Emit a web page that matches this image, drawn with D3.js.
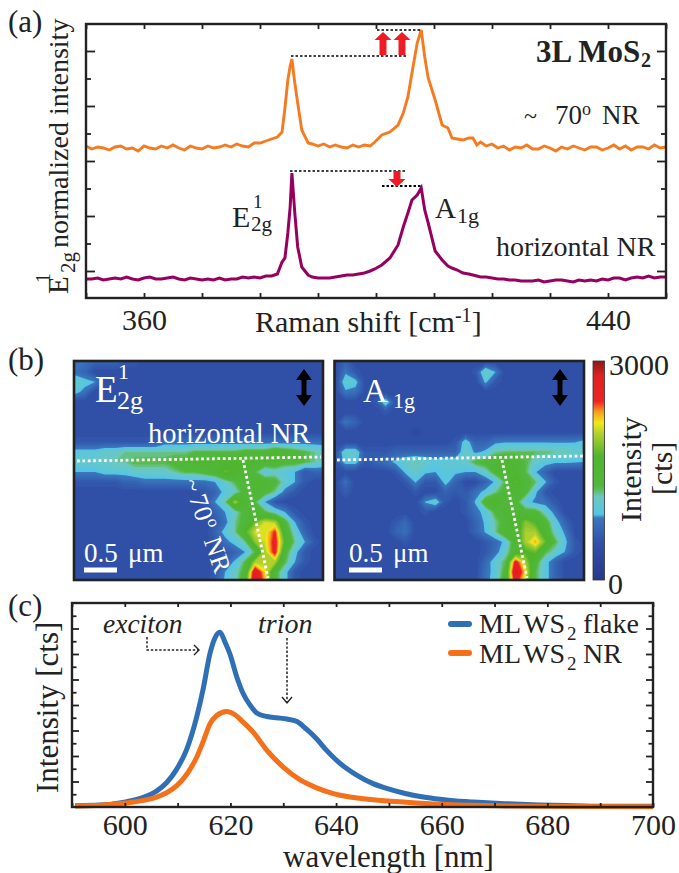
<!DOCTYPE html>
<html>
<head>
<meta charset="utf-8">
<script src="https://d3js.org/d3.v7.min.js"></script>
<style>
body { margin: 0; background: white; }
svg { display: block; }
text { font-family: "Liberation Serif"; fill: #222; }
</style>
</head>
<body>
<div id="canvas"></div>
<script>
// panel (a), intensity in arbitrary units
var ramanShift = [350,351,352,353,354,355,356,357,358,359,360,361,362,363,364,365,366,367,368,369,370,371,372,373,374,375,376,377,378,379,380,381,382,383,383.8,384.3,384.8,385.2,385.5,386,386.5,387.2,388.3,389,390,391,392,393,394,395,396,397,398,399,399.8,401,402.4,403.8,404.7,405.5,406.2,407.1,407.8,408.4,409,410.2,411.4,412.4,413.1,414,415,416,416.7,417.4,418,419,420,421,422,423,424,425,426,427,428,429,430,431,432,433,434,435,436,437,438,439,440,441,442,443,444,445,446,447,448,449,450];
var orangeRaman = [152,149,151,150,148,151,152,149,150,147,152,150,149,152,150,153,150,148,152,150,149,152,150,151,153,151,154,152,151,155,155,157,159,161,166,190,218,232,239,215,195,168,155,154,152,154,151,153,151,150,153,151,153,152,156,163,166,173,185,201,225,255,268,241,220,198,173,170,160,159,158,160,160,153,156,152,154,150,152,148,151,150,153,149,149,152,150,147,151,149,152,150,148,151,151,148,150,153,149,152,148,151,151,149,153,150,151];
var purpleRaman = [19,19,20,18,19,20,19,21,19,18,20,21,19,19,20,21,19,18,20,19,18,19,18,20,18,19,19,21,20,21,20,22,22,24,36,40,65,91,125,85,51,31,23,21,20,20,20,21,22,23,23,24,25,27,29,33,40,53,71,85,98,103,110,88,75,47,38,32,30,28,25,24,23,22,21,21,20,19,19,18,18,17,17,17,18,16,17,18,18,17,16,18,17,18,17,19,18,20,20,18,20,21,20,22,20,21,21];
var ramanTicks = [350,360,370,380,390,400,410,420,430,440,450];
var ramanLabels = [360,440];
var ramanMajor = [27,82,137,192,247];
var ramanMinor = [54.5,109.5,164.5,219.5];

// panel (b), intensity maps in hundreds of counts
var mapE = [
[8,8,7,7,7,6,6,5,5,5,5,5,5,5,5,5,5,5,5,5,5,5,5,5,5,5],
[8,7,5,5,5,5,5,5,5,5,5,5,5,5,5,5,5,5,5,5,5,5,5,5,5,5],
[11,10,9,5,5,5,5,5,5,5,5,5,5,5,5,5,5,5,5,5,5,5,5,5,5,5],
[10,8,5,5,5,5,5,5,5,5,5,5,5,5,5,5,5,5,5,5,5,5,5,5,5,5],
[5,5,5,5,5,5,5,5,5,5,5,5,5,5,5,5,5,5,5,5,5,5,5,5,5,5],
[5,5,5,5,5,5,5,5,5,5,5,5,5,5,5,5,5,5,5,5,5,5,5,5,5,5],
[5,5,5,5,5,5,5,5,5,5,5,5,5,5,5,5,5,5,5,5,5,5,5,5,5,5],
[5,5,5,5,5,5,5,5,5,5,5,5,5,5,5,5,5,5,5,5,5,5,5,5,5,5],
[6,6,6,6,6,6,6,6,6,8,8,8,8,8,8,8,8,8,8,8,8,8,8,8,8,8],
[10,10,10,11,11,12,12,12,12,12,12,12,13,13,13,13,13,14,14,14,16,15,14,13,12,11],
[11,11,11,11,12,12,13,13,13,13,14,14,15,15,15,16,16,16,15,15,15,14,14,13,12,11],
[9,9,9,10,10,10,11,11,11,11,12,13,13,14,15,18,17,15,13,10,11,10,9,6,7,7],
[6,6,6,6,6,7,7,8,8,8,8,8,8,8,9,11,13,14,15,15,14,11,9,6,5,5],
[5,5,5,5,5,5,5,5,5,5,5,5,5,6,7,10,11,14,15,14,12,8,6,5,5,5],
[5,5,5,5,5,5,5,5,5,5,5,5,5,6,9,12,20,15,13,9,6,5,5,5,5,5],
[5,5,5,5,5,5,5,5,5,5,5,5,5,5,7,9,11,14,15,13,11,9,6,5,5,5],
[5,5,5,5,5,5,5,5,5,5,5,5,5,5,6,8,12,14,18,21,20,14,9,6,5,5],
[5,5,5,5,5,5,5,5,5,5,5,5,5,5,7,10,12,17,21,21,25,15,11,7,5,5],
[5,5,5,5,5,5,5,5,5,5,5,5,5,5,6,8,10,12,19,21,26,17,12,9,6,5],
[5,5,5,5,5,5,5,5,5,5,5,5,5,5,5,6,7,9,13,20,26,14,10,6,5,5],
[5,5,5,5,5,5,5,5,5,5,5,5,5,5,6,7,9.5,13,20,20,20,13,9,6,5,5],
[5,5,5,5,5,5,5,5,5,5,5,5,5,5,6,9,11,14,28,22,14,10,6,5,5,5],
[5,5,5,5,5,5,5,5,5,5,5,5,5,5,6,9.5,11,16,29,23,14,10,6,5,5,5]
];
var mapA = [
[5,7,5,5,5,5,5,5,5,5,5,5,5,5,5,5,5,5,5,5,5,5,5,5,5,5],
[5,8.5,6,5,5,5,5,5,5,5,5,5,5,5,6,12,9,5,5,5,5,5,5,5,5,5],
[5,11,10,5,5,5,5,5,5,5,5,5,5,5,5,9.5,6,5,5,5,5,5,5,5,5,5],
[5,8.5,8,5,5,5,5,5,5,5,5,5,5,5,5,5,5,5,5,5,5,5,5,5,5,5],
[5,5,5,5,6,11,6,5,5,5,5,5,5,5,5,5,5,5,5,5,5,5,5,5,5,5],
[5,5,5,5,5,6,5,5,5,5,5,5,5,5,5,5,5,5,5,5,5,5,5,5,5,5],
[5,8.5,7,5,5,5,5,5,5,5,5,5,5,5,5,5,5,5,5,5,5,5,5,5,5,5],
[5,5,5,5,5,5,5,5,4,5,5,5,5,5,5,5,5,5,5,5,5,5,5,5,5,5],
[5,5,5,5,5,5,5,5,5,5,5,5,6,10.5,7,7,8.5,8.8,8.8,8.8,8.8,8.8,8.8,8.8,8.9,10],
[6,11,11,6,6,6,7,7,7,7,7,7,7,11,8.5,9.5,12,12.5,12.5,12.5,12.5,12.5,12,12,11,11],
[6,10,10,6,7,8,9.5,11,12,11,10,10.5,10.5,11,13.5,14,15,15,15,13,11,10,9.5,9.5,9.2,8.9],
[5,5,5,5,5,5,6,9.5,11,9.5,9,10,9.5,9,9,11,14,15,15,13,9.2,7,5,5,5,5],
[5,8,5,5,5,5,5,6,9.2,6,6,10,7,5,5,7,9.5,13,18,14,12.5,9.2,6,5,5,5],
[5,6.5,5,5,5,5,5,5,6,5,5,7,6,6,8,9.8,12,14,15,14,9.5,6,5,5,5,5],
[5,5,5,5,5,5,5,5,5,9.2,11,6,5,6,9.3,15,17,14,14,10,8.5,8,6,5,5,5],
[5,5,5,5,5,5,5,5,5,6,5,5,5,6,8,10,13.5,15,15,14,14,11,8,5,5,5],
[5,5,5,5,5,5,6,7.5,5,5,5,5,5,5,7,9.5,12,14,15,19,17,14,10,7,5,5],
[5,5,5,5,5,5,7,8,5,5,5,5,5,5,7,9.2,12,16,15,20,20,15,11,8.5,5,5],
[5,5,5,5,5,5,5,6,5,5,5,5,5,5,5,6,7.5,9.8,15,20,23,18,13,9.5,6,5],
[5,5,5,5,5,5,5,5,5,5,5,5,5,5,5,6,8,11,15,17,18,13,11,8.8,6,5],
[5,5,5,5,5,5,5,5,5,5,5,5,5,5,5,7.5,10.5,13,26,20,14,10,7,5,5,5],
[5,5,5,5,5,5,5,5,5,5,5,5,5,5,5,8,10,14,29,22,13,10,7,5,5,5],
[5,5,5,5,5,5,5,5,5,5,5,5,5,5,5,8,10.5,15,26,20,13,10,7,5,5,5]
];
var colourStops = [0,5,8.5,9,11.4,12.5,13,17,20,21.5,23,24.5,28,30];
var colourValues = ["#27398a","#3050a8","#3a78bd","#55c4e6","#6cc8c0","#5cbb50","#50b83c","#50b52d","#b0d030","#f0e81c","#f7a020","#ee2324","#e02020","#8a1a1a"];

// panel (c)
var flakeNm = [590.6,595.3,600.2,603.5,606,607.9,609.8,611.7,613.6,614.9,616.1,617,618,619,619.9,621.2,622.4,623.7,624.9,626.9,628.8,630.7,632.6,634.4,636.3,638.2,640.8,643.9,647,650.2,653.3,656.5,659.7,662.8,666,672,678.6,685,691,700];
var flakeValues = [0.1,0.15,0.4,0.75,1.25,1.9,2.95,4.5,7.05,9.4,12,13.2,13.7,12.9,12,10.2,8.9,8,7.4,7.1,7,6.9,6.7,6.1,5.35,4.44,3.4,2.5,1.83,1.38,1.04,0.78,0.6,0.47,0.39,0.26,0.16,0.1,0.05,0.05];
var ribbonNm = [590.6,595.3,600.2,603.5,606,607.9,609.8,611.7,613.6,614.9,616.1,617.4,619.3,620.6,622.4,624.3,626.9,630,633.2,636.3,639.5,640.8,647,653.3,659.7,666,672,685,700];
var ribbonValues = [0.08,0.13,0.31,0.52,0.78,1.12,1.65,2.55,3.9,5.2,6.5,7.18,7.5,7.3,6.66,5.87,4.44,3.13,2.12,1.5,1.05,0.92,0.57,0.37,0.21,0.13,0.08,0.03,0.02];
var nmTicks = [590,600,610,620,630,640,650,660,670,680,690,700];
var nmLabels = [600,620,640,660,680,700];
var plMajor = [2,4,6,8,10,12,14];
var plMinor = [1,3,5,7,9,11,13,15];

var svg = d3.select("#canvas").append("svg").attr("width", 679).attr("height", 873);

function label(parent, x, y, str, size, opts) {
	opts = opts || {};
	var t = parent.append("text").attr("x", x).attr("y", y).attr("font-size", size).text(str);
	if (opts.anchor) t.attr("text-anchor", opts.anchor);
	if (opts.fill) t.style("fill", opts.fill);
	if (opts.bold) t.attr("font-weight", "bold");
	if (opts.italic) t.attr("font-style", "italic");
	if (opts.rotate !== undefined) t.attr("transform", "rotate(" + opts.rotate + " " + x + " " + y + ")");
	return t;
}

// ticks pointing inward on all four sides
function frame(g, x, y, xTicks, xLabels, major, minor, lenMajor, lenMinor, lenX, fontSize, pad) {
	var h = y.range()[0], w = x.range()[1] - x.range()[0], left = x.range()[0], top = y.range()[1];
	g.append("g").attr("transform", "translate(0," + h + ")")
		.call(d3.axisBottom(x).tickValues(xTicks).tickSizeInner(-lenX).tickSizeOuter(0).tickPadding(pad)
			.tickFormat(function(d) { return xLabels.indexOf(d) >= 0 ? d : ""; }));
	g.append("g").attr("transform", "translate(0," + top + ")")
		.call(d3.axisTop(x).tickValues(xTicks).tickSizeInner(-lenX).tickSizeOuter(0).tickFormat(""));
	[[major, lenMajor], [minor, lenMinor]].forEach(function(m) {
		g.append("g").attr("transform", "translate(" + left + ",0)")
			.call(d3.axisLeft(y).tickValues(m[0]).tickSizeInner(-m[1]).tickSizeOuter(0).tickFormat(""));
		g.append("g").attr("transform", "translate(" + (left + w) + ",0)")
			.call(d3.axisRight(y).tickValues(m[0]).tickSizeInner(-m[1]).tickSizeOuter(0).tickFormat(""));
	});
	g.selectAll("line").attr("stroke", "#222").attr("stroke-width", 1.8);
	g.selectAll("path.domain").attr("stroke", "none");
	g.selectAll(".tick text").attr("font-family", "Liberation Serif").attr("font-size", fontSize).style("fill", "#222");
	g.append("rect").attr("x", left).attr("y", top).attr("width", w).attr("height", h - top)
		.attr("fill", "none").attr("stroke", "#222").attr("stroke-width", 2.4);
}

/* ---------- (a) ---------- */
var a = svg.append("g");
var xA = d3.scaleLinear().domain([350, 450]).range([86, 666]);
var yA = d3.scaleLinear().domain([0, 274]).range([298, 24]);
var lineA = function(vals) {
	return d3.line().x(function(d, i) { return xA(ramanShift[i]); }).y(function(d) { return yA(d); })(vals);
};
a.append("path").attr("d", lineA(orangeRaman)).attr("fill", "none").attr("stroke", "#f57a20").attr("stroke-width", 2.9);
a.append("path").attr("d", lineA(purpleRaman)).attr("fill", "none").attr("stroke", "#96005f").attr("stroke-width", 3);
frame(a, xA, yA, ramanTicks, ramanLabels, ramanMajor, ramanMinor, 9, 5, 5, 30, 11);

label(a, 8, 32, "(a)", 31);
// rotated axis title with stacked sub/superscript
var yt = a.append("g").attr("transform", "translate(68,294) rotate(-90)");
label(yt, 0, 0, "E", 29);
label(yt, 11, -18, "1", 20);
label(yt, 21, 7, "2g", 21);
label(yt, 46, 0, "normalized intensity", 28);
var xt = a.append("text").attr("x", 255).attr("y", 332).attr("font-size", 30).text("Raman shift [cm");
xt.append("tspan").attr("dy", -10).attr("font-size", 20).text("-1");
xt.append("tspan").attr("dy", 10).text("]");

label(a, 536, 62, "3L MoS", 31, {bold: true});
label(a, 641, 67, "2", 20, {bold: true});
label(a, 524, 124, "~", 24);
label(a, 555, 124, "70", 27);
label(a, 582, 115, "o", 18);
label(a, 602, 124, "NR", 27);
label(a, 496, 256, "horizontal NR", 28);
label(a, 232, 227, "E", 30);
label(a, 253, 208, "1", 19);
label(a, 251, 231, "2g", 21);
label(a, 435, 218, "A", 29);
label(a, 457, 223, "1g", 22);

// peak level guides
function guide(x1, x2, y1, w) {
	a.append("line").attr("x1", x1).attr("x2", x2).attr("y1", y1).attr("y2", y1)
		.attr("stroke", "#000").attr("stroke-width", w).attr("stroke-dasharray", "2.5,2");
}
guide(291, 408, 56, 1.4);
guide(377, 421, 30, 1.4);
guide(290, 407, 171, 1.4);
guide(382, 421, 186, 2);
var redArrow = function(x, yFrom, yTo) {
	var dir = yTo > yFrom ? -1 : 1, head = 8;
	a.append("path").attr("fill", "#ee1c25").attr("d",
		"M" + (x - 3.5) + "," + yFrom + "L" + (x - 3.5) + "," + (yTo + dir * head) + "L" + (x - 8.5) + "," + (yTo + dir * head) +
		"L" + x + "," + yTo + "L" + (x + 8.5) + "," + (yTo + dir * head) + "L" + (x + 3.5) + "," + (yTo + dir * head) + "L" + (x + 3.5) + "," + yFrom + "Z");
};
redArrow(383, 55, 32);
redArrow(402, 55, 32);
redArrow(397, 171, 187);

/* ---------- (b) ---------- */
var b = svg.append("g");
label(b, 8, 370, "(b)", 31);
var colour = d3.scaleLinear().domain(colourStops).range(colourValues);
var levels = d3.range(0, 30.5, 0.5);

function drawMap(values, left, right, id) {
	var top = 361, bottom = 580;
	var flat = d3.merge(values);
	var cols = values[0].length, rows = values.length;
	var xM = d3.scaleLinear().domain([0.5, cols - 0.5]).range([left + 1, left + 251]);
	var yM = d3.scaleLinear().domain([0.5, rows - 0.5]).range([362, 582]);
	var path = d3.geoPath(d3.geoTransform({ point: function(x, y) { this.stream.point(xM(x), yM(y)); } }));
	svg.append("clipPath").attr("id", id).append("rect").attr("x", left).attr("y", top).attr("width", right - left).attr("height", bottom - top);
	var g = b.append("g").attr("clip-path", "url(#" + id + ")");
	g.selectAll("path").data(d3.contours().size([cols, rows]).thresholds(levels)(flat)).join("path")
		.attr("d", path).attr("fill", function(d) { return colour(d.value); });
	b.append("rect").attr("x", left).attr("y", top).attr("width", right - left).attr("height", bottom - top)
		.attr("fill", "none").attr("stroke", "#222").attr("stroke-width", 2.6);
}
drawMap(mapE, 74, 323, "mapE");
drawMap(mapA, 334.5, 584, "mapA");

function dotted(x1, y1, x2, y2) {
	b.append("line").attr("x1", x1).attr("y1", y1).attr("x2", x2).attr("y2", y2)
		.attr("stroke", "white").attr("stroke-width", 2.8).attr("stroke-dasharray", "2.8,2.6");
}
dotted(77, 461, 321, 457);
dotted(243, 460, 268, 578);
dotted(337, 460, 583, 456);
dotted(502, 460, 527, 578);

function doubleArrow(x) {
	b.append("path").attr("fill", "#000").attr("d",
		"M" + x + ",369L" + (x + 8) + ",380L" + (x + 2.5) + ",380L" + (x + 2.5) + ",395L" + (x + 8) + ",395L" + x + ",406L" + (x - 8) + ",395L" + (x - 2.5) + ",395L" + (x - 2.5) + ",380L" + (x - 8) + ",380Z");
}
doubleArrow(304);
doubleArrow(560);

var white = {fill: "white"};
label(b, 95, 402, "E", 37, white);
label(b, 118, 379, "1", 22, white);
label(b, 117, 409, "2g", 26, white);
label(b, 148, 443, "horizontal NR", 28.5, white);
var rot = b.append("g").attr("transform", "translate(182,478) rotate(71)");
label(rot, 4, 0, "~", 24, white);
label(rot, 21, 0, "70", 26, white);
label(rot, 48, -10, "o", 17, white);
label(rot, 66, 0, "NR", 26, white);
label(b, 363, 402, "A", 34, white);
label(b, 393, 408, "1g", 22, white);
label(b, 84, 562, "0.5", 27, white);
label(b, 128, 562, "\u03bcm", 27, white);
label(b, 349, 562, "0.5", 27, white);
label(b, 393, 562, "\u03bcm", 27, white);
b.append("rect").attr("x", 84).attr("y", 567.5).attr("width", 33).attr("height", 5).attr("fill", "white");
b.append("rect").attr("x", 349).attr("y", 567.5).attr("width", 33).attr("height", 5).attr("fill", "white");

// colour bar
var grad = svg.append("defs").append("linearGradient").attr("id", "bar").attr("x1", 0).attr("x2", 0).attr("y1", 1).attr("y2", 0);
grad.selectAll("stop").data(colourStops).join("stop")
	.attr("offset", function(d) { return d / 30; })
	.attr("stop-color", function(d) { return colour(d); });
b.append("rect").attr("x", 593).attr("y", 361).attr("width", 11.5).attr("height", 219).attr("fill", "url(#bar)").attr("stroke", "#333").attr("stroke-width", 0.8);
label(b, 609, 375, "3000", 30);
label(b, 608, 594, "0", 30);
label(b, 641, 522, "Intensity", 30, {rotate: -90});
label(b, 672, 495, "[cts]", 30, {rotate: -90});

/* ---------- (c) ---------- */
var c = svg.append("g");
var xC = d3.scaleLinear().domain([590, 700]).range([72, 653]);
var yC = d3.scaleLinear().domain([0, 16]).range([807, 603]);
var curve = d3.line().curve(d3.curveMonotoneX).x(function(d) { return xC(d[0]); }).y(function(d) { return yC(d[1]); });
c.append("path").attr("d", curve(d3.zip(flakeNm, flakeValues))).attr("fill", "none").attr("stroke", "#2f6fb5").attr("stroke-width", 5);
c.append("path").attr("d", curve(d3.zip(ribbonNm, ribbonValues))).attr("fill", "none").attr("stroke", "#f5701a").attr("stroke-width", 5);
frame(c, xC, yC, nmTicks, nmLabels, plMajor, plMinor, 7, 4.5, 4, 30, 7);

label(c, 8, 616, "(c)", 31);
label(c, 58, 793, "Intensity [cts]", 31, {rotate: -90});
label(c, 283, 867, "wavelength [nm]", 31);
label(c, 103, 633, "exciton", 27.5, {italic: true});
label(c, 258, 633, "trion", 28, {italic: true});

// dotted annotation arrows
function annot(d, tip) {
	c.append("path").attr("d", d).attr("fill", "none").attr("stroke", "#222").attr("stroke-width", 1.5).attr("stroke-dasharray", "2.4,1.8");
	c.append("path").attr("d", tip).attr("fill", "none").attr("stroke", "#222").attr("stroke-width", 1.4);
}
annot("M147,637V650H199", "M194,645L199,650L194,655");
annot("M287,638V702", "M282,697L287,703L292,697");

c.append("line").attr("x1", 451).attr("x2", 469).attr("y1", 624).attr("y2", 624).attr("stroke", "#2f6fb5").attr("stroke-width", 6).attr("stroke-linecap", "round");
c.append("line").attr("x1", 451).attr("x2", 469).attr("y1", 653).attr("y2", 653).attr("stroke", "#f5701a").attr("stroke-width", 6).attr("stroke-linecap", "round");
label(c, 479, 633, "ML", 28);
label(c, 523, 633, "WS", 28);
label(c, 567, 640, "2", 19);
label(c, 583, 633, "flake", 28);
label(c, 479, 663, "ML", 28);
label(c, 523, 663, "WS", 28);
label(c, 567, 670, "2", 19);
label(c, 583, 663, "NR", 28);
</script>
</body>
</html>
